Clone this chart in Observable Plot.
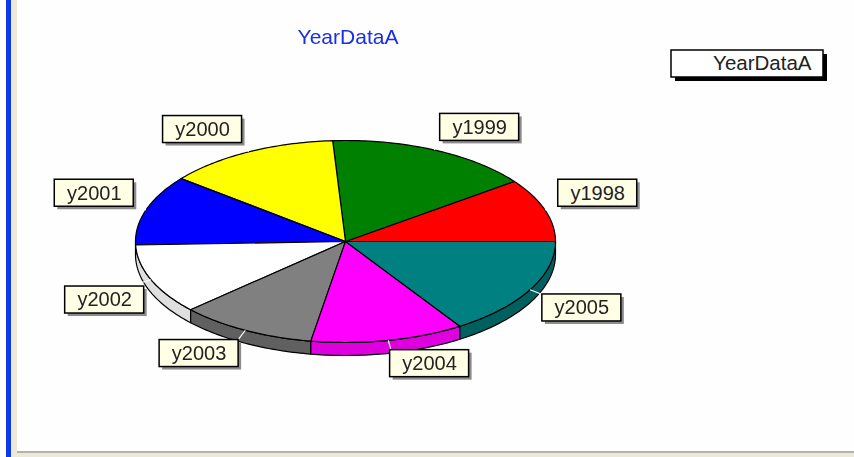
<!DOCTYPE html>
<html><head><meta charset="utf-8">
<script src="https://cdn.jsdelivr.net/npm/d3@7"></script>
<script src="https://cdn.jsdelivr.net/npm/@observablehq/plot@0.6"></script>
<style>
html,body{margin:0;padding:0;background:#fefefe;width:854px;height:457px;overflow:hidden;position:relative}
.f{position:absolute}
#chart{position:absolute;left:0;top:0;filter:blur(.4px)}
svg{background:transparent!important;display:block}
</style></head><body>
<div class="f" style="left:0;top:0;width:6px;height:457px;background:#fff"></div>
<div class="f" style="left:6px;top:0;width:5px;height:457px;background:#0a3ce6"></div>
<div class="f" style="left:11px;top:0;width:6px;height:457px;background:#ece9d8"></div>
<div class="f" style="left:17px;top:451px;width:837px;height:2px;background:#b4b2a6"></div>
<div class="f" style="left:17px;top:453px;width:837px;height:4px;background:#ece9d8"></div>
<div id="chart"></div>
<script>
const categories = ["y1998","y1999","y2000","y2001","y2002","y2003","y2004","y2005"];
const values = [36.5,57,48,40.5,40.5,38,42.5,57];
const colors = ["#ff0000","#008000","#ffff00","#0000ff","#ffffff","#808080","#ff00ff","#008080"];
const title = "YearDataA";

// Pie projection (1 scale unit = 1 px)
const W=854,H=457,CX=345,CY=241,RX=210,RY=101,DEPTH=13,LRX=224,LRY=111,BW=79,BH=27;
const labelNudge={y2001:[1,0],y2002:[6,3],y2003:[0,1],y2004:[-1,0]};
const rad=d=>d*Math.PI/180;
const total=d3.sum(values);
let acc=0;
const slices=categories.map((name,i)=>{
  const a0=acc; acc+=values[i]/total*360; const a1=acc;
  return {name,a0,a1,mid:(a0+a1)/2,color:colors[i]};
});
const darker=c=>{const r=d3.rgb(c);return d3.rgb(Math.max(0,r.r-32),Math.max(0,r.g-32),Math.max(0,r.b-32)).formatHex();};
const arc=(a0,a1)=>{const n=Math.max(1,Math.ceil(a1-a0));return d3.range(n+1).map(k=>a0+(a1-a0)*k/n);};
const pt=(a,dy=0)=>({x:RX*Math.cos(rad(a)),y:RY*Math.sin(rad(a))-dy});

const tops=slices.flatMap(s=>[{x:0,y:0},...arc(s.a0,s.a1).map(a=>pt(a)),{x:0,y:0}].map(p=>({...p,name:s.name})));
const walls=slices.filter(s=>s.a1>180).flatMap(s=>{
  const as=arc(Math.max(s.a0,180),s.a1);
  const pts=[...as.map(a=>pt(a)),...as.slice().reverse().map(a=>pt(a,DEPTH))];
  pts.push(pts[0]);
  return pts.map(p=>({...p,name:s.name,wall:darker(s.color)}));
});
const labels=slices.map(s=>{
  const c=Math.cos(rad(s.mid)),n=Math.sin(rad(s.mid));
  const px=LRX*c,py=LRY*n;
  const [dx,dy]=labelNudge[s.name]||[0,0];
  const x1=(c>=0?px:px-BW)+dx,x2=x1+BW;
  const y1=(n>=0?py:py-BH)-dy,y2=y1+BH;
  return {name:s.name,x1,x2,y1,y2,px,py,ex:RX*c,ey:RY*n};
});
const FONT="Liberation Sans";
const legend=[{x1:671-CX,x2:823-CX,y1:CY-77,y2:CY-50}];

const chart=Plot.plot({
  width:W,height:H,margin:0,
  x:{domain:[-CX,W-CX],range:[0,W],axis:null},
  y:{domain:[CY,CY-H],range:[0,H],axis:null},
  color:{domain:categories,range:colors},
  style:{background:"transparent"},
  marks:[
    Plot.line(walls,{x:"x",y:"y",z:"name",fill:{value:"wall",scale:null},stroke:"#000",strokeWidth:1.2,curve:"linear"}),
    Plot.line(tops,{x:"x",y:"y",z:"name",fill:"name",stroke:"#000",strokeWidth:1.2,curve:"linear"}),
    Plot.link(labels,{x1:"ex",y1:"ey",x2:"px",y2:"py",stroke:"#fff",strokeWidth:1.2}),
    Plot.rect(labels,{x1:d=>d.x1+3,x2:d=>d.x2+3,y1:d=>d.y1-3,y2:d=>d.y2-3,fill:"#8c8c8c",inset:0}),
    Plot.rect(labels,{x1:"x1",x2:"x2",y1:"y1",y2:"y2",fill:"#ffffe6",stroke:"#000",strokeWidth:1.5}),
    Plot.text(labels,{x:d=>(d.x1+d.x2)/2,y:d=>(d.y1+d.y2)/2,text:"name",fontSize:20,fontFamily:FONT,fill:"#222"}),
    Plot.text([title],{x:2.5,y:CY-37,text:d=>d,fontSize:21,fontFamily:FONT,fill:"#1a2ee6"}),
    Plot.rect(legend,{x1:d=>d.x1+4,x2:d=>d.x2+4,y1:d=>d.y1-4,y2:d=>d.y2-4,fill:"#000"}),
    Plot.rect(legend,{x1:"x1",x2:"x2",y1:"y1",y2:"y2",fill:"#fff",stroke:"#000",strokeWidth:1.5}),
    Plot.text([title],{x:811-CX,y:CY-63,text:d=>d,fontSize:20.5,fontFamily:FONT,textAnchor:"end",fill:"#222"})
  ]
});
document.getElementById("chart").append(chart);
</script>
</body></html>
